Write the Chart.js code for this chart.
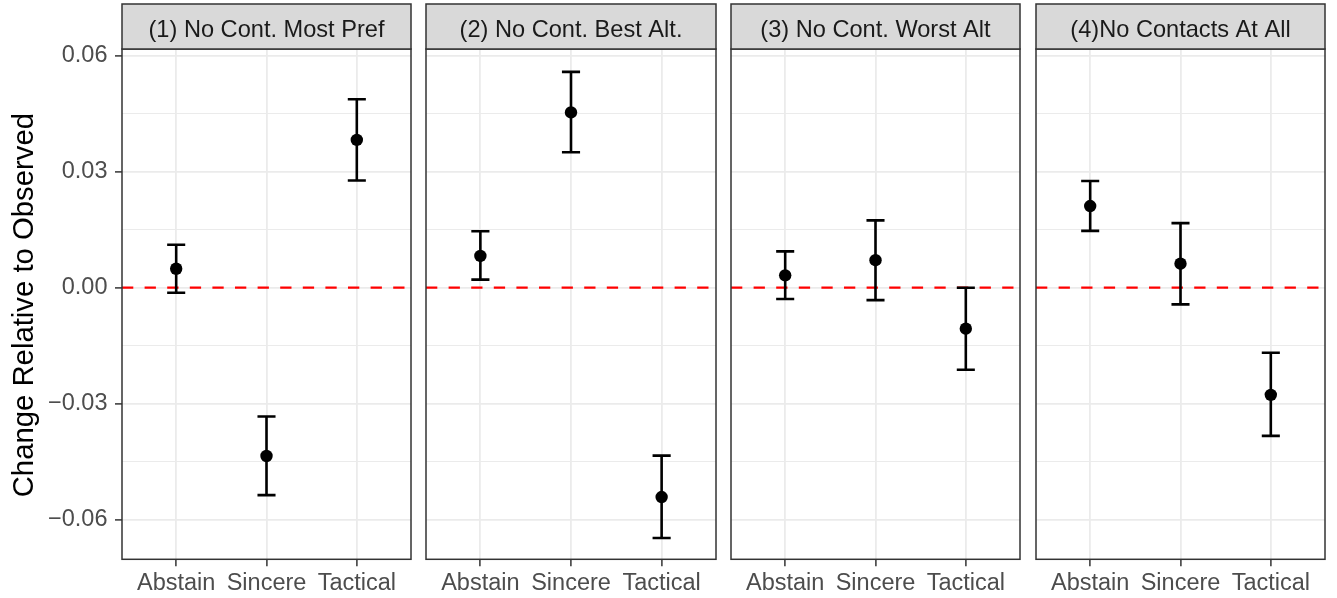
<!DOCTYPE html>
<html>
<head>
<meta charset="utf-8">
<script src="https://cdn.jsdelivr.net/npm/chart.js@4.4.1/dist/chart.umd.min.js"></script>
<style>
  html, body { margin: 0; padding: 0; background: #ffffff; }
  #wrap { position: relative; width: 1337px; height: 598px; background: #ffffff; overflow: hidden; }
  #wrap canvas { position: absolute; left: 0; top: 0; }
</style>
</head>
<body>
<div id="wrap">
  <canvas id="c0" width="1337" height="598"></canvas>
  <canvas id="c1" width="1337" height="598"></canvas>
  <canvas id="c2" width="1337" height="598"></canvas>
  <canvas id="c3" width="1337" height="598"></canvas>
</div>
<script>
// ---------------- data ----------------
const categories = ['Abstain', 'Sincere', 'Tactical'];
const panelTitles = ['(1) No Cont. Most Pref', '(2) No Cont. Best Alt.', '(3) No Cont. Worst Alt', '(4)No Contacts At All'];
const yAxisTitle = 'Change Relative to Observed';

const est1 = [0.0049, -0.0435, 0.0382];
const lo1  = [-0.0013, -0.0536, 0.0277];
const hi1  = [0.0111, -0.0333, 0.0487];

const est2 = [0.0082, 0.0453, -0.0541];
const lo2  = [0.0021, 0.0350, -0.0647];
const hi2  = [0.0146, 0.0558, -0.0434];

const est3 = [0.0032, 0.0071, -0.0106];
const lo3  = [-0.0029, -0.0032, -0.0212];
const hi3  = [0.0094, 0.0174, 0.0000];

const est4 = [0.0211, 0.0062, -0.0277];
const lo4  = [0.0147, -0.0043, -0.0383];
const hi4  = [0.0276, 0.0167, -0.0168];

const yTickValues = [-0.06, -0.045, -0.03, -0.015, 0, 0.015, 0.03, 0.045, 0.06];
const yMin = -0.0702, yMax = 0.0617;
const refLine = 0;

const estimates = [est1, est2, est3, est4];
const lowers = [lo1, lo2, lo3, lo4];
const uppers = [hi1, hi2, hi3, hi4];

// ---------------- layout ----------------
const W = 1337, H = 598;
const panelLeft  = [122, 426, 731, 1036];
const panelRight = [411, 716, 1020, 1325];
const panelTop = 49, panelBottom = 559.3;
const stripTop = 4;
const FONT = '"Liberation Sans", Arial, Helvetica, sans-serif';

Chart.defaults.font.family = FONT;
Chart.defaults.animation = false;

const facetPlugin = {
  id: 'facet',
  afterDatasetsDraw(chart, args, opts) {
    const ctx = chart.ctx;
    const xs = chart.scales.x, ys = chart.scales.y;
    const halfW = Math.abs(xs.getPixelForValue(0.1) - xs.getPixelForValue(0));
    ctx.save();
    ctx.strokeStyle = '#000000';
    ctx.lineWidth = 2.6;
    ctx.lineCap = 'butt';
    for (let i = 0; i < categories.length; i++) {
      const x = xs.getPixelForValue(i);
      const yl = ys.getPixelForValue(opts.lo[i]);
      const yh = ys.getPixelForValue(opts.hi[i]);
      ctx.beginPath();
      ctx.moveTo(x, yh); ctx.lineTo(x, yl);
      ctx.moveTo(x - halfW, yh); ctx.lineTo(x + halfW, yh);
      ctx.moveTo(x - halfW, yl); ctx.lineTo(x + halfW, yl);
      ctx.stroke();
    }
    ctx.restore();
  },
  afterDraw(chart, args, opts) {
    const ctx = chart.ctx;
    const a = chart.chartArea;
    ctx.save();
    // panel border
    ctx.strokeStyle = '#333333';
    ctx.lineWidth = 1.5;
    ctx.strokeRect(a.left, a.top, a.right - a.left, a.bottom - a.top);
    // strip
    ctx.fillStyle = '#D9D9D9';
    ctx.fillRect(a.left, stripTop, a.right - a.left, a.top - stripTop);
    ctx.strokeRect(a.left, stripTop, a.right - a.left, a.top - stripTop);
    ctx.fillStyle = '#1A1A1A';
    ctx.font = '23.6px ' + FONT;
    ctx.textAlign = 'center';
    ctx.textBaseline = 'alphabetic';
    ctx.fillText(opts.title, (a.left + a.right) / 2, 36.8);
    // y axis title on first panel
    if (opts.idx === 0) {
      ctx.save();
      ctx.translate(33, (a.top + a.bottom) / 2 + 1);
      ctx.rotate(-Math.PI / 2);
      ctx.fillStyle = '#000000';
      ctx.font = '29.3px ' + FONT;
      ctx.textAlign = 'center';
      ctx.textBaseline = 'alphabetic';
      ctx.fillText(yAxisTitle, 0, 0);
      ctx.restore();
    }
    ctx.restore();
  }
};

function fmtTick(v) {
  const s = Math.abs(v).toFixed(2);
  return v < 0 ? '\u2212' + s : s;
}

const padL = 8, padB = 1;

for (let p = 0; p < 4; p++) {
  const first = p === 0;
  const pts = categories.map((c, i) => ({ x: i, y: estimates[p][i] }));
  const yAxisW = panelLeft[p] - padL;
  const xAxisH = H - panelBottom - padB;
  new Chart(document.getElementById('c' + p), {
    type: 'scatter',
    data: {
      datasets: [
        {
          type: 'scatter',
          data: pts,
          backgroundColor: '#000000',
          borderColor: '#000000',
          borderWidth: 0,
          pointRadius: 6.2,
          pointHoverRadius: 6.2,
          order: 0
        },
        {
          type: 'line',
          data: [{ x: -0.6, y: refLine }, { x: 2.6, y: refLine }],
          borderColor: '#FF0000',
          borderWidth: 2.2,
          borderDash: [11.3, 11.3],
          pointRadius: 0,
          fill: false,
          order: 1
        }
      ]
    },
    options: {
      responsive: false,
      maintainAspectRatio: false,
      devicePixelRatio: 1,
      animation: false,
      events: [],
      layout: {
        padding: { left: padL, right: W - panelRight[p], top: panelTop, bottom: padB }
      },
      plugins: {
        legend: { display: false },
        tooltip: { enabled: false },
        title: { display: false },
        facet: { idx: p, title: panelTitles[p], lo: lowers[p], hi: uppers[p] }
      },
      scales: {
        x: {
          type: 'linear',
          min: -0.6,
          max: 2.6,
          afterBuildTicks(scale) { scale.ticks = categories.map((c, i) => ({ value: i })); },
          afterFit(scale) { scale.height = xAxisH; },
          border: { display: false },
          grid: {
            color: '#EBEBEB',
            lineWidth: 1.8,
            drawTicks: true,
            tickLength: 7,
            tickColor: '#333333',
            tickWidth: 1.5
          },
          ticks: {
            autoSkip: false,
            maxRotation: 0,
            minRotation: 0,
            padding: 3,
            color: '#4D4D4D',
            font: { size: 23.5, family: FONT },
            callback: (v) => categories[Math.round(v)]
          }
        },
        y: {
          type: 'linear',
          min: yMin,
          max: yMax,
          afterBuildTicks(scale) { scale.ticks = yTickValues.map(v => ({ value: v })); },
          afterFit(scale) { scale.width = yAxisW; },
          border: { display: false },
          grid: {
            color: '#EBEBEB',
            lineWidth: (c) => (c.index % 2 === 0 ? 1.8 : 1.0),
            drawTicks: first,
            tickLength: 7,
            tickColor: (c) => (c.index % 2 === 0 ? '#333333' : 'rgba(0,0,0,0)'),
            tickWidth: 1.5
          },
          ticks: {
            display: first,
            autoSkip: false,
            padding: 7.5,
            color: '#4D4D4D',
            font: { size: 23.5, family: FONT },
            callback: (v, i) => (i % 2 === 0 ? fmtTick(yTickValues[i]) : '')
          }
        }
      }
    },
    plugins: [facetPlugin]
  });
}
</script>
</body>
</html>
